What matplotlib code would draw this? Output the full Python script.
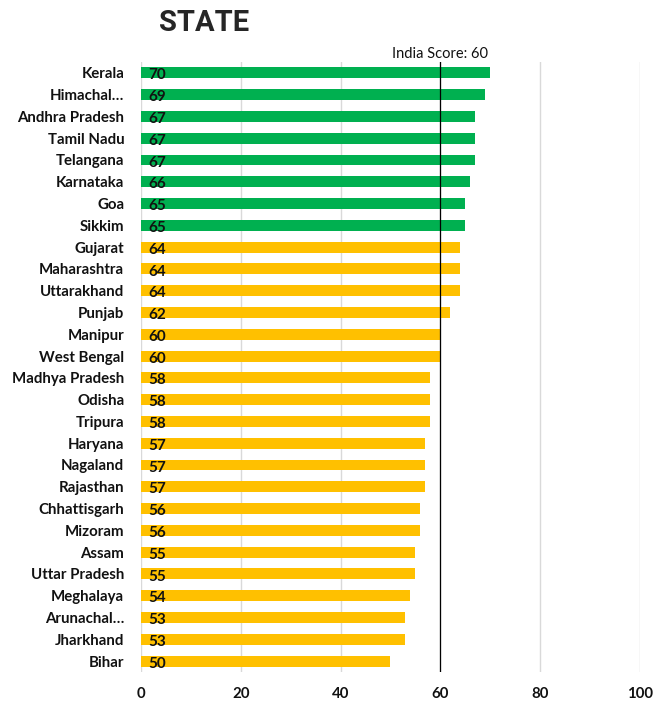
import matplotlib.pyplot as plt

states = ['Kerala', 'Himachal…', 'Andhra Pradesh', 'Tamil Nadu', 'Telangana', 'Karnataka',
          'Goa', 'Sikkim', 'Gujarat', 'Maharashtra', 'Uttarakhand', 'Punjab', 'Manipur',
          'West Bengal', 'Madhya Pradesh', 'Odisha', 'Tripura', 'Haryana', 'Nagaland',
          'Rajasthan', 'Chhattisgarh', 'Mizoram', 'Assam', 'Uttar Pradesh', 'Meghalaya',
          'Arunachal…', 'Jharkhand', 'Bihar']
scores = [70, 69, 67, 67, 67, 66, 65, 65, 64, 64, 64, 62, 60, 60, 58, 58, 58, 57, 57,
          57, 56, 56, 55, 55, 54, 53, 53, 50]
india_score = 60
xticks = [0, 20, 40, 60, 80, 100]

plt.rcParams['font.family'] = ['Lato', 'DejaVu Sans']

fig = plt.figure(figsize=(6.64, 7.04), dpi=100)
ax = fig.add_axes([0.2123, 0.0455, 0.7516, 0.8665])

colors = ['#00B050' if s >= 65 else '#FFC000' for s in scores]
y = list(range(len(states)))
ax.barh(y, scores, height=0.5, color=colors, zorder=2)

for yi, s in zip(y, scores):
    ax.text(1.4, yi + 0.12, str(s), ha='left', va='center', fontsize=11,
            fontweight='bold', color='#111111', zorder=3)

ax.axvline(india_score, color='black', linewidth=0.9, zorder=3)
ax.text(india_score, -0.55, 'India Score: ' + str(india_score), ha='center', va='bottom',
        fontsize=10.5, color='#111111')

ax.set_xlim(0, 100)
ax.set_ylim(len(states) - 0.5, -0.5)
ax.set_yticks(y)
ax.set_yticklabels(states, fontsize=10.8, fontweight='bold', color='#111111')
ax.set_xticks(xticks)
ax.set_xticklabels([str(t) for t in xticks], fontsize=10.8, fontweight='bold', color='#111111')
ax.tick_params(axis='both', length=0)
ax.tick_params(axis='x', pad=11)
ax.tick_params(axis='y', pad=12)
ax.grid(axis='x', color='#d9d9d9', linewidth=1, zorder=0)
for sp in ax.spines.values():
    sp.set_visible(False)

fig.text(0.307, 0.968, 'STATE', ha='center', va='center', fontsize=21,
         fontweight='bold', color='#262626', family=['Roboto', 'DejaVu Sans'])

fig.savefig('out.png', dpi=100)
